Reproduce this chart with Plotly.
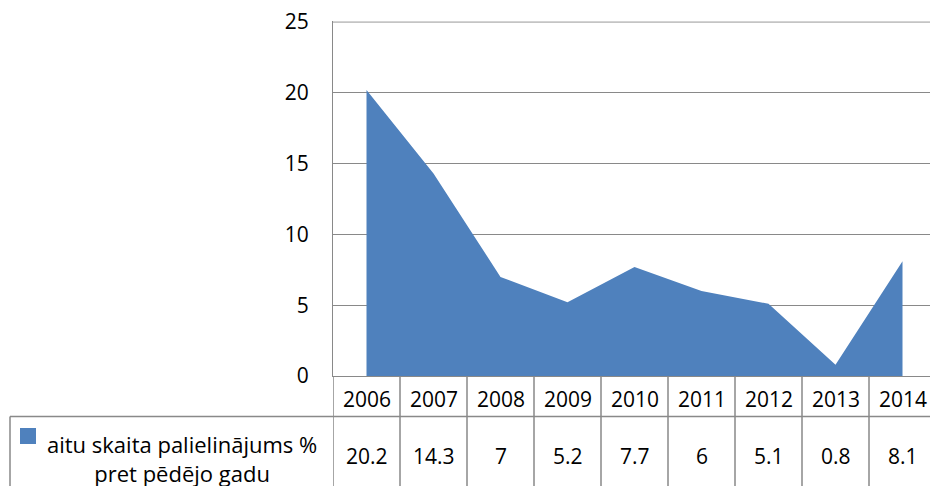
import plotly.graph_objects as go

years = ["2006", "2007", "2008", "2009", "2010", "2011", "2012", "2013", "2014"]
values = [20.2, 14.3, 7, 5.2, 7.7, 6, 5.1, 0.8, 8.1]
value_labels = ["20.2", "14.3", "7", "5.2", "7.7", "6", "5.1", "0.8", "8.1"]
series_name = "aitu skaita palielinājums %<br>pret pēdējo gadu"
y_ticks = [0, 5, 10, 15, 20, 25]

# page body keeps an 8px margin: work in screen pixels minus that offset
OFF = 8
W, H = 930, 478
BLUE = "#4F81BD"
GRID = "#898989"
FONT = "Open Sans"


def fx(p):
    return (p - OFF) / W


def fy(p):
    return 1 - (p - OFF) / H


xs = list(range(len(years)))

fig = go.Figure()
fig.add_trace(go.Scatter(x=xs, y=values, mode="lines", fill="tozeroy",
                         fillcolor=BLUE, line=dict(width=0, color=BLUE),
                         showlegend=False, hoverinfo="skip"))

fig.update_layout(
    width=W, height=H, autosize=False,
    margin=dict(l=0, r=0, t=0, b=0, pad=0, autoexpand=False),
    paper_bgcolor="white", plot_bgcolor="white",
    font=dict(family=FONT, size=21, color="black"),
    xaxis=dict(domain=[fx(333), fx(936)], range=[-0.5, len(years) - 0.5],
               automargin=False,
               showgrid=False, zeroline=False, showticklabels=False,
               showline=True, linecolor=GRID, linewidth=1),
    yaxis=dict(domain=[fy(376), fy(21.3)], range=[0, 25.05], tickvals=y_ticks,
               automargin=False, ticklabeloverflow="allow",
               showgrid=True, gridcolor=GRID, gridwidth=1, zeroline=False,
               showline=True, linecolor=GRID, linewidth=1,
               ticks="", ticklabelstandoff=19,
               tickfont=dict(family=FONT, size=21)),
)

line = dict(color=GRID, width=1.5)
# top gridline (value 25) sits on the plot edge
fig.add_shape(type="line", xref="x", yref="y", x0=-0.5, x1=len(years) - 0.5,
              y0=y_ticks[-1], y1=y_ticks[-1], line=dict(color=GRID, width=1))
# table: vertical column borders
for i in range(len(years) + 1):
    fig.add_shape(type="line", xref="x", yref="paper",
                  x0=i - 0.5, x1=i - 0.5, y0=fy(376), y1=0, line=line)
# horizontal border under year row
fig.add_shape(type="line", xref="paper", yref="paper",
              x0=fx(10), x1=fx(936), y0=fy(416.5), y1=fy(416.5), line=line)
# left border of legend cell
fig.add_shape(type="line", xref="paper", yref="paper",
              x0=fx(10), x1=fx(10), y0=fy(416.5), y1=0, line=line)
# legend key
fig.add_shape(type="rect", xref="paper", yref="paper",
              x0=fx(20), x1=fx(36), y0=fy(444), y1=fy(428),
              fillcolor=BLUE, line=dict(width=0))

for i, (yr, lab) in enumerate(zip(years, value_labels)):
    fig.add_annotation(x=i, y=fy(399), xref="x", yref="paper", text=yr,
                       xanchor="center", yanchor="middle",
                       showarrow=False, font=dict(size=21))
    fig.add_annotation(x=i, y=fy(456), xref="x", yref="paper", text=lab,
                       xanchor="center", yanchor="middle",
                       showarrow=False, font=dict(size=21))

fig.add_annotation(x=fx(182), y=fy(458), xref="paper", yref="paper",
                   text=series_name, showarrow=False, align="center",
                   xanchor="center", yanchor="middle",
                   font=dict(size=22))

fig.write_html("out.html")
